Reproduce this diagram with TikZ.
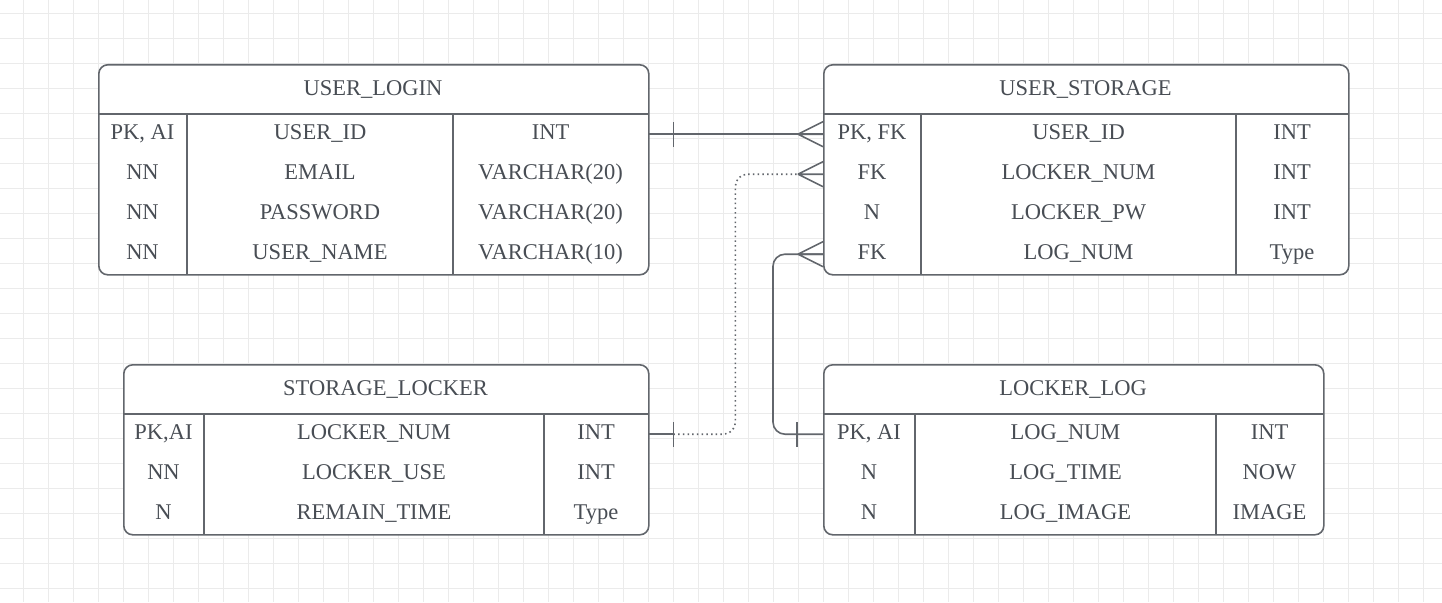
\documentclass[tikz,border=0pt]{standalone}
\usepackage{fontspec}
\setmainfont{Liberation Serif}
\definecolor{ln}{HTML}{62666C}
\definecolor{tx}{HTML}{484D54}
\definecolor{gridc}{HTML}{EBEBEB}
\tikzset{
  gridline/.style={draw=gridc, line width=1pt},
  tbl/.style={draw=ln, line width=1.6pt, fill=white, rounded corners=9pt, inner sep=0pt, rectangle},
  sepline/.style={draw=ln, line width=1.6pt},
  rowbox/.style={inner sep=0pt, minimum height=40pt, rectangle},
  cell/.style={text=tx, font=\fontsize{22.5}{26}\selectfont, inner sep=0pt, anchor=base},
  rel/.style={draw=ln, line width=1.6pt, rounded corners=12pt},
  dotline/.style={dash pattern=on 1.5pt off 3.2pt},
  crow/.style={draw=ln, line width=1.6pt},
  tickmk/.style={draw=ln, line width=1.3pt}
}
\newcommand\ertable[8]{%
  \gdef\tN{#1}\gdef\tL{#2}\gdef\tT{#3}\gdef\tR{#4}\gdef\tA{#5}\gdef\tB{#6}%
  \pgfmathsetmacro\tBot{#3+50+40*#7}%
  \node[tbl, minimum width={(#4-#2)*1pt}, minimum height={(50+40*#7)*1pt}, anchor=north west] (#1) at (#2,#3) {};
  \node[cell] (#1-title) at ({(#2+#4)/2},#3+31) {#8};
  \draw[sepline] (#2,#3+50) -- (#4,#3+50);
  \draw[sepline] (#5,#3+50) -- (#5,\tBot);
  \draw[sepline] (#6,#3+50) -- (#6,\tBot);
}
\newcommand\errow[4]{%
  \pgfmathsetmacro\rt{\tT+50+40*(#1-1)}%
  \node[rowbox, minimum width={(\tR-\tL)*1pt}, anchor=north west] (\tN-r#1) at (\tL,\rt) {};
  \node[cell] (\tN-r#1-a) at ({(\tL+\tA)/2},\rt+25.5) {#2};
  \node[cell] (\tN-r#1-b) at ({(\tA+\tB)/2},\rt+25.5) {#3};
  \node[cell] (\tN-r#1-c) at ({(\tB+\tR)/2},\rt+25.5) {#4};
}
\newcommand\crowfoot[1]{%
  \draw[crow] ([xshift=-25pt]#1) -- ([yshift=12.5pt]#1)
              ([xshift=-25pt]#1) -- ([yshift=-12.5pt]#1)
              ([xshift=-25pt]#1) -- (#1);}
\newcommand\tickmark[2]{%
  \draw[tickmk] ([xshift=#2,yshift=-12.5pt]#1) -- ([xshift=#2,yshift=12.5pt]#1);}
\begin{document}
\begin{tikzpicture}[x=1pt,y=-1pt]
\useasboundingbox (0,0) rectangle (1442,602);
\fill[white] (0,0) rectangle (1442,602);
\foreach \x in {23.3,48.3,...,1442} \draw[gridline] (\x,0) -- (\x,602);
\foreach \y in {13.3,38.3,...,602} \draw[gridline] (0,\y) -- (1442,\y);

% USER_LOGIN
\ertable{ul}{98}{64}{648}{187}{453}{4}{USER\_LOGIN}
\errow{1}{PK, AI}{USER\_ID}{INT}
\errow{2}{NN}{EMAIL}{VARCHAR(20)}
\errow{3}{NN}{PASSWORD}{VARCHAR(20)}
\errow{4}{NN}{USER\_NAME}{VARCHAR(10)}

% USER_STORAGE
\ertable{us}{823}{64}{1348}{921}{1236}{4}{USER\_STORAGE}
\errow{1}{PK, FK}{USER\_ID}{INT}
\errow{2}{FK}{LOCKER\_NUM}{INT}
\errow{3}{N}{LOCKER\_PW}{INT}
\errow{4}{FK}{LOG\_NUM}{Type}

% STORAGE_LOCKER
\ertable{sl}{123}{364}{648}{204}{544}{3}{STORAGE\_LOCKER}
\errow{1}{PK,AI}{LOCKER\_NUM}{INT}
\errow{2}{NN}{LOCKER\_USE}{INT}
\errow{3}{N}{REMAIN\_TIME}{Type}

% LOCKER_LOG
\ertable{ll}{823}{364}{1323}{915}{1216}{3}{LOCKER\_LOG}
\errow{1}{PK, AI}{LOG\_NUM}{INT}
\errow{2}{N}{LOG\_TIME}{NOW}
\errow{3}{N}{LOG\_IMAGE}{IMAGE}

% USER_LOGIN -> USER_STORAGE
\draw[rel] (ul-r1.east) -- (us-r1.west);
\tickmark{ul-r1.east}{25pt}
\crowfoot{us-r1.west}

% STORAGE_LOCKER -> USER_STORAGE (dotted)
\draw[rel] (sl-r1.east) -- ([xshift=25pt]sl-r1.east);
\draw[rel, dotline] ([xshift=25pt]sl-r1.east) -- ([xshift=87pt]sl-r1.east) |- ([xshift=-25pt]us-r2.west);
\tickmark{sl-r1.east}{25pt}
\crowfoot{us-r2.west}

% LOCKER_LOG -> USER_STORAGE
\draw[rel] (ll-r1.west) -- ([xshift=-50pt]ll-r1.west) |- (us-r4.west);
\tickmark{ll-r1.west}{-26pt}
\crowfoot{us-r4.west}
\end{tikzpicture}
\end{document}
